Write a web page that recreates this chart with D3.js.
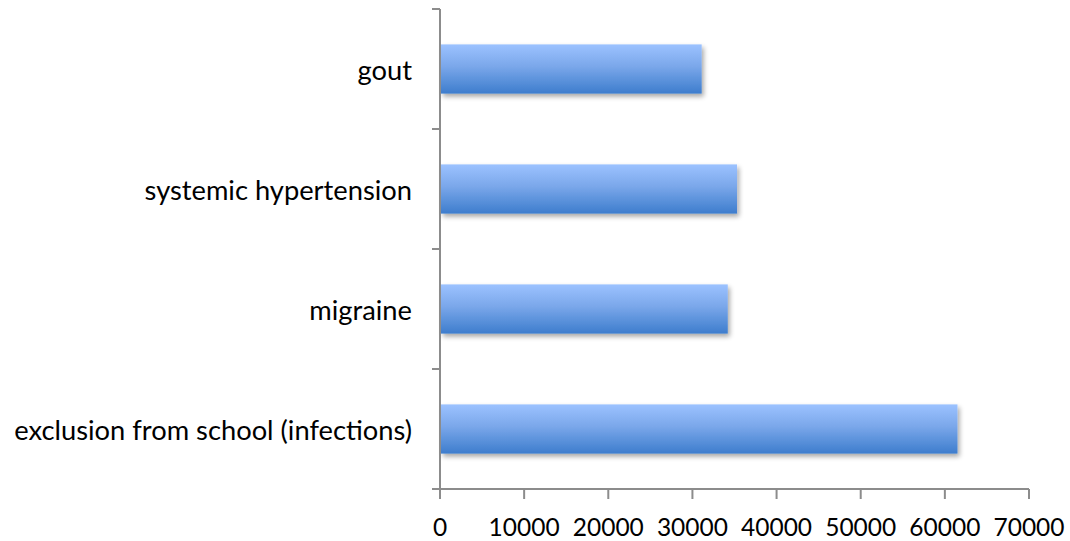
<!DOCTYPE html>
<html>
<head>
<meta charset="utf-8">
<script src="https://cdn.jsdelivr.net/npm/d3@7"></script>
<style>
  html, body { margin: 0; padding: 0; background: #fff; }
  svg { display: block; }
  .lbl { font-family: Lato, "Open Sans", sans-serif; fill: #000; }
  .cat { font-size: 27.3px; }
  .num { font-size: 24.5px; }
</style>
</head>
<body>
<svg id="chart" width="1070" height="541"></svg>
<script>
// Categories listed from bottom to top as drawn
const categories = ["exclusion from school (infections)", "migraine", "systemic hypertension", "gout"];
const values = [61500, 34200, 35300, 31100];
const xTicks = [0, 10000, 20000, 30000, 40000, 50000, 60000, 70000];

const svg = d3.select("#chart");
const plot = { left: 440, right: 1029, top: 9, bottom: 489 };

const x = d3.scaleLinear().domain([0, 70000]).range([plot.left, plot.right]);
const y = d3.scaleBand()
  .domain(categories.slice().reverse())
  .range([plot.top, plot.bottom])
  .paddingInner(0.59)
  .paddingOuter(0.295);

const defs = svg.append("defs");
const grad = defs.append("linearGradient")
  .attr("id", "barFill").attr("x1", 0).attr("y1", 0).attr("x2", 0).attr("y2", 1);
grad.append("stop").attr("offset", "0%").attr("stop-color", "#9cc2ff");
grad.append("stop").attr("offset", "45%").attr("stop-color", "#7aa7ea");
grad.append("stop").attr("offset", "100%").attr("stop-color", "#3d7dcd");

const shadow = defs.append("filter").attr("id", "barShadow")
  .attr("x", "-5%").attr("y", "-20%").attr("width", "115%").attr("height", "160%");
shadow.append("feGaussianBlur").attr("in", "SourceAlpha").attr("stdDeviation", 2.5).attr("result", "blur");
shadow.append("feOffset").attr("in", "blur").attr("dx", 2).attr("dy", 3).attr("result", "off");
shadow.append("feComponentTransfer").attr("in", "off").attr("result", "soft")
  .append("feFuncA").attr("type", "linear").attr("slope", 0.35);
const merge = shadow.append("feMerge");
merge.append("feMergeNode").attr("in", "soft");
merge.append("feMergeNode").attr("in", "SourceGraphic");

const data = categories.map((c, i) => ({ c, v: values[i] }));

// Bars
svg.append("g").selectAll("rect").data(data).join("rect")
  .attr("x", x(0) + 1)
  .attr("y", d => y(d.c))
  .attr("width", d => x(d.v) - x(0) - 1)
  .attr("height", y.bandwidth())
  .attr("fill", "url(#barFill)")
  .attr("filter", "url(#barShadow)");

const axisColor = "#8c8c8c";

// Category axis with ticks on band boundaries
const yAxis = svg.append("g");
yAxis.append("line")
  .attr("x1", plot.left).attr("x2", plot.left)
  .attr("y1", plot.top).attr("y2", plot.bottom)
  .attr("stroke", axisColor).attr("stroke-width", 2);
const boundaries = d3.range(categories.length + 1).map(i => plot.top + i * (plot.bottom - plot.top) / categories.length);
yAxis.selectAll("line.tick").data(boundaries).join("line")
  .attr("class", "tick")
  .attr("x1", plot.left - 8).attr("x2", plot.left)
  .attr("y1", d => d).attr("y2", d => d)
  .attr("stroke", axisColor).attr("stroke-width", 2);
yAxis.selectAll("text").data(categories).join("text")
  .attr("class", "lbl cat")
  .attr("text-anchor", "end")
  .attr("x", 412)
  .attr("y", d => y(d) + y.bandwidth() / 2 + 10.5)
  .text(d => d);

// Value axis
const xAxis = svg.append("g");
xAxis.append("line")
  .attr("x1", plot.left - 8).attr("x2", plot.right)
  .attr("y1", plot.bottom).attr("y2", plot.bottom)
  .attr("stroke", axisColor).attr("stroke-width", 2);
xAxis.selectAll("line.tick").data(xTicks).join("line")
  .attr("class", "tick")
  .attr("x1", d => x(d)).attr("x2", d => x(d))
  .attr("y1", plot.bottom).attr("y2", plot.bottom + 10)
  .attr("stroke", axisColor).attr("stroke-width", 2);
xAxis.selectAll("text").data(xTicks).join("text")
  .attr("class", "lbl num")
  .attr("text-anchor", "middle")
  .attr("x", d => x(d))
  .attr("y", 536)
  .text(d => d);
</script>
</body>
</html>
